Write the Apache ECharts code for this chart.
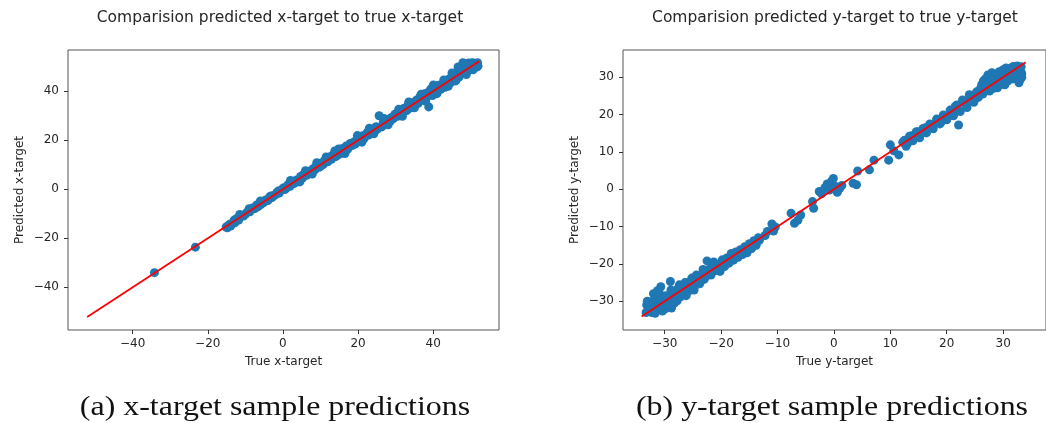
<!DOCTYPE html>
<html>
<head>
<meta charset="utf-8">
<script src="https://cdn.jsdelivr.net/npm/echarts@6/dist/echarts.min.js"></script>
<style>
html,body{margin:0;padding:0;background:#fff;}
#chart{width:1046px;height:423px;}
</style>
</head>
<body>
<div id="chart"></div>
<script>
// ---- data: [true, predicted] ----
const xTargetPoints = [
[-34.2,-34.0],[-23.3,-23.6],[-15.1,-15.4],[-14.5,-14.9],[-13.9,-15.0],[-14.2,-14.3],[-12.4,-12.0],[-11.8,-12.6],[-11.2,-11.0],[-10.5,-10.9],
[-10.0,-10.2],[-9.6,-9.4],[-8.8,-9.2],[-8.1,-7.6],[-7.5,-7.9],[-7.0,-6.4],[-6.6,-7.1],[-5.9,-6.2],[-5.2,-5.5],[-4.6,-4.4],
[-4.0,-4.6],[-3.5,-3.0],[-2.9,-3.4],[-2.2,-2.5],[-1.6,-1.3],[-1.0,-1.6],[-0.4,-0.2],[0.2,0.6],[0.8,0.3],[1.3,1.8],
[1.9,1.2],[2.5,2.9],[3.0,2.4],[3.6,3.8],[4.1,3.6],[4.7,5.2],[5.2,4.6],[5.8,6.1],[6.3,5.7],[6.9,7.3],
[7.4,6.8],[8.0,8.4],[8.5,7.9],[9.1,9.6],[9.6,9.0],[10.2,10.7],[10.7,10.1],[11.3,11.9],[11.8,11.2],[12.4,12.8],
[12.9,12.2],[13.5,14.1],[14.0,13.3],[14.6,15.2],[15.1,14.4],[15.7,16.5],[16.2,15.3],[16.8,17.6],[17.3,16.5],[17.9,18.6],
[18.4,17.8],[19.0,19.4],[19.5,18.9],[20.1,20.7],[20.6,20.0],[21.2,21.8],[21.7,21.0],[22.3,22.9],[22.8,22.1],[23.4,23.8],
[23.9,23.2],[24.5,25.0],[25.0,24.3],[25.6,30.0],[26.1,25.4],[26.7,27.4],[27.2,26.5],[27.8,28.2],[28.3,27.6],[28.9,29.3],
[29.4,28.8],[30.0,30.5],[30.5,29.8],[31.1,31.6],[31.6,31.0],[32.2,32.9],[32.7,32.0],[33.3,34.5],[33.8,33.1],[34.4,35.2],
[34.9,34.2],[35.5,36.3],[36.0,35.1],[36.6,38.1],[37.1,36.4],[37.7,39.0],[38.2,37.4],[38.8,33.6],[39.3,40.8],[39.8,38.2],
[40.4,41.3],[40.9,39.6],[41.5,42.4],[42.0,40.8],[42.6,43.2],[43.1,41.6],[43.7,42.5],[44.2,45.0],[44.8,43.7],[45.3,46.2],
[45.9,44.8],[46.4,47.5],[47.0,46.3],[47.5,49.3],[48.1,47.6],[48.6,50.2],[49.2,48.6],[49.7,50.8],[50.3,49.4],[50.8,51.2],
[51.3,50.5],[51.8,51.6],[51.5,49.8],[50.0,51.4],[48.5,51.3],
[-3.0,-2.6],[-1.2,-0.7],[0.5,-0.1],[2.2,2.8],[3.3,2.7],[5.5,6.0],[7.0,6.3],[8.8,9.3],[10.0,9.4],[11.0,11.6],
[12.0,11.3],[13.0,13.7],[14.3,13.6],[15.5,16.3],[17.0,16.1],[18.0,18.7],[19.2,18.4],[20.4,21.0],[21.5,20.6],[22.6,23.3],
[23.7,22.9],[24.8,25.5],[26.4,25.6],[27.5,28.3],[28.6,27.8],[29.8,30.6],[31.0,30.2],[32.0,32.8],[33.0,32.2],[34.0,34.9],
[35.2,34.4],[36.3,37.2],[37.4,36.5],[38.5,39.4],[39.6,38.6],[41.2,42.2],[42.3,41.3],[43.4,44.3],[44.5,43.4],[45.6,46.6],
[46.8,45.7],[47.8,49.8],[49.0,48.0],[50.5,51.6],[51.6,50.6],
[9.0,10.8],[11.5,13.2],[13.8,15.6],[14.8,16.4],[16.5,14.6],[19.8,21.9],[21.0,19.2],[23.0,24.9],[24.2,22.6],[26.9,28.9],
[28.0,26.3],[30.8,32.6],[31.8,29.8],[33.5,35.6],[35.0,33.2],[36.8,38.8],[38.0,36.0],[40.0,42.5],[41.0,39.0],[42.8,44.6],
[44.0,42.0],[45.0,47.4],[46.0,44.2],[47.2,48.9],[48.8,46.8],[49.5,51.5],[50.6,48.7],[51.9,50.2],[47.9,51.6],[46.6,49.9],
[2.0,3.6],[4.5,3.0],[6.0,7.6],[7.8,6.2],[-6.0,-4.8],[-9.0,-7.9],[-11.5,-10.3],[-13.0,-12.6],[-12.8,-13.7],[-14.8,-15.7]
];
const xTargetLine = [[-52.1,-52.1],[52.2,52.2]];

const yTargetPoints = [
[-33.2,-31.0],[-33.0,-32.5],[-32.6,-30.2],[-32.3,-33.0],[-32.0,-31.6],[-31.8,-29.5],[-31.5,-32.3],[-31.2,-30.8],[-30.9,-28.0],[-30.6,-31.5],
[-30.7,-26.1],[-30.2,-29.8],[-29.9,-32.0],[-29.6,-30.3],[-29.0,-24.7],[-29.2,-28.6],[-28.8,-31.8],[-28.5,-29.0],[-28.1,-27.6],[-27.8,-29.9],
[-27.4,-25.6],[-27.0,-27.8],[-26.6,-26.2],[-26.2,-28.5],[-25.8,-25.0],[-25.4,-26.9],[-25.0,-24.5],[-24.6,-25.8],[-24.2,-23.9],[-23.8,-25.3],
[-23.4,-22.8],[-23.0,-24.1],[-22.5,-19.2],[-22.2,-21.5],[-21.8,-23.0],[-21.3,-19.5],[-21.0,-21.8],[-20.6,-20.3],[-20.2,-22.0],[-19.8,-18.9],
[-19.4,-20.7],[-19.0,-18.4],[-18.6,-19.8],[-18.2,-17.2],[-17.8,-19.0],[-17.4,-16.8],[-17.0,-18.2],[-16.6,-16.2],[-16.2,-17.5],[-15.8,-15.4],
[-15.4,-17.0],[-15.0,-14.6],[-14.6,-15.9],[-14.2,-13.8],[-13.8,-15.0],[-13.4,-13.0],
[-12.2,-12.4],[-11.8,-11.3],[-11.0,-9.3],[-10.7,-11.2],[-10.4,-10.1],[-7.6,-6.4],[-7.0,-9.1],[-6.4,-8.3],[-5.9,-6.9],[-3.8,-3.3],
[-3.6,-5.1],[-2.6,-0.6],[-2.2,-1.2],[-1.6,0.4],[-1.2,1.4],[-0.8,-0.2],[-0.4,2.2],[-0.1,2.9],[0.2,0.8],[0.6,-0.8],
[1.0,0.2],[1.4,1.0],[3.4,1.6],[4.0,1.2],[4.2,4.9],[6.3,5.2],[7.1,7.8],[9.7,7.8],[10.0,11.9],[10.6,10.3],
[11.5,9.2],[12.2,12.6],[12.8,11.5],[13.4,14.2],[14.0,13.0],[14.6,15.4],[15.2,13.8],[15.8,16.3],[16.4,15.1],[17.0,17.5],
[17.6,16.2],[18.2,18.8],[18.8,17.5],[19.4,19.9],[20.0,18.6],[20.6,21.2],[21.2,19.7],[21.8,22.6],[22.1,17.2],[22.4,20.8],
[23.0,23.4],[23.6,21.9],[24.2,24.6],[24.8,23.3],[25.2,25.8],[25.6,24.6],[26.0,27.0],[26.4,25.5],[26.8,29.5],[27.0,27.5],
[27.3,30.6],[27.6,26.3],[28.0,31.2],[28.3,28.4],[28.6,30.2],[29.0,27.2],[29.3,31.5],[29.6,29.0],[30.0,32.0],[30.3,28.0],
[30.6,31.0],[31.0,30.2],[31.3,32.4],[31.6,29.5],[32.0,32.6],[32.3,30.8],[32.6,32.1],[33.0,29.3],[33.1,31.5],[32.8,28.5],
[-32.8,-31.8],[-31.0,-31.2],[-30.0,-30.8],[-28.0,-29.0],[-26.8,-27.2],[-25.0,-26.0],[-24.0,-24.8],[-22.8,-23.6],[-20.8,-21.2],[-19.6,-19.8],
[-18.4,-18.8],[-17.2,-17.8],[-16.0,-16.5],[-14.8,-15.2],[-13.6,-14.1],[12.5,13.1],[13.8,14.3],[15.0,15.4],[16.2,16.5],[17.3,17.0],
[18.5,18.2],[19.7,19.3],[20.9,20.5],[22.0,21.4],[23.3,22.8],[24.5,24.0],[25.7,25.2],[26.2,28.0],[27.8,28.8],[28.8,29.8],
[30.2,30.5],[31.3,31.0],[32.4,32.3],[33.2,32.8],
[-33.3,-33.0],[-33.1,-30.0],[-32.5,-31.5],[-32.0,-28.0],[-31.7,-33.2],[-31.3,-27.2],[-30.8,-29.5],[-30.4,-32.6],[-29.8,-28.5],[-29.4,-31.0],
[-28.9,-27.0],[-28.3,-30.5],[-27.6,-26.4],[-27.2,-28.8],[-26.4,-25.0],[-25.9,-27.5],[-25.2,-23.8],[-24.8,-27.0],[-24.4,-23.0],[-23.6,-24.6],
[-23.2,-21.5],[-22.0,-22.8],[-21.6,-20.2],[-20.4,-21.5],[-19.2,-19.0],[-18.0,-18.5],[-16.8,-17.0],[-15.6,-16.0],[-14.4,-14.8],[-13.2,-13.6],
[26.5,29.0],[27.2,28.2],[27.9,30.1],[28.5,29.2],[29.2,30.8],[29.8,31.2],[30.5,32.5],[31.1,31.8],[31.8,32.9],[32.5,33.0],
[33.3,31.0],[33.3,30.0],[32.2,29.6],[31.5,30.5],[30.8,29.0],[29.5,28.0],[28.2,27.0],[25.4,26.2],[24.0,25.3],[22.8,23.9],
[21.5,22.2],[20.3,19.5],[19.0,18.0],[17.9,17.6],[16.7,16.6],[15.5,15.0],[14.3,14.0],[13.1,12.4]
];
const yTargetLine = [[-34.1,-34.1],[34.0,34.0]];

const xTicksA = [-40, -20, 0, 20, 40];
const yTicksA = [-40, -20, 0, 20, 40];
const xTicksB = [-30, -20, -10, 0, 10, 20, 30];
const yTicksB = [-30, -20, -10, 0, 10, 20, 30];

const titles = ['Comparision predicted x-target to true x-target', 'Comparision predicted y-target to true y-target'];
const captions = ['(a) x-target sample predictions', '(b) y-target sample predictions'];
const axisNames = {xA: 'True x-target', yA: 'Predicted x-target', xB: 'True y-target', yB: 'Predicted y-target'};

// ---- styling ----
const FONT = '"DejaVu Sans", sans-serif';
const SERIF = '"Liberation Serif", serif';
const TXT = '#262626';
const minus = v => String(v).replace('-', '\u2212');

function axis(isX, idx, min, max, ticks, name, nameGap) {
  return {
    type: 'value', gridIndex: idx, min: min, max: max,
    name: name, nameLocation: 'middle', nameGap: nameGap,
    nameTextStyle: {fontFamily: FONT, fontSize: 12, color: TXT},
    axisLine: {show: false, onZero: false},
    axisTick: {show: true, length: 4, lineStyle: {color: '#333', width: 1}, customValues: ticks},
    axisLabel: {show: true, fontFamily: FONT, fontSize: 12, color: TXT, margin: isX ? 8 : 9, customValues: ticks, formatter: minus},
    splitLine: {show: false}
  };
}

const chart = echarts.init(document.getElementById('chart'), null, {renderer: 'canvas'});
chart.setOption({
  animation: false,
  backgroundColor: '#fff',
  grid: [
    {left: 68, top: 50, width: 431, height: 280, show: true, borderColor: '#555', borderWidth: 1, backgroundColor: 'transparent', containLabel: false},
    {left: 623, top: 50, width: 433, height: 280, show: true, borderColor: '#555', borderWidth: 1, backgroundColor: 'transparent', containLabel: false}
  ],
  xAxis: [
    axis(true, 0, -57.2, 57.5, xTicksA, axisNames.xA, 26),
    axis(true, 1, -37.4, 37.6, xTicksB, axisNames.xB, 26)
  ],
  yAxis: [
    axis(false, 0, -57.4, 56.8, yTicksA, axisNames.yA, 42),
    axis(false, 1, -37.7, 37.3, yTicksB, axisNames.yB, 42)
  ],
  series: [
    {type: 'scatter', xAxisIndex: 0, yAxisIndex: 0, data: xTargetPoints, symbolSize: 9,
     itemStyle: {color: '#1f77b4', opacity: 1}, z: 2},
    {type: 'line', xAxisIndex: 0, yAxisIndex: 0, data: xTargetLine, showSymbol: false,
     lineStyle: {color: '#ff0000', width: 1.8}, z: 3},
    {type: 'scatter', xAxisIndex: 1, yAxisIndex: 1, data: yTargetPoints, symbolSize: 9,
     itemStyle: {color: '#1f77b4', opacity: 1}, z: 2},
    {type: 'line', xAxisIndex: 1, yAxisIndex: 1, data: yTargetLine, showSymbol: false,
     lineStyle: {color: '#ff0000', width: 1.8}, z: 3}
  ],
  graphic: [
    {type: 'text', x: 280, y: 18, style: {text: titles[0], fontFamily: FONT, fontSize: 15.5, fill: TXT, textAlign: 'center', textVerticalAlign: 'middle'}},
    {type: 'text', x: 835, y: 18, style: {text: titles[1], fontFamily: FONT, fontSize: 15.5, fill: TXT, textAlign: 'center', textVerticalAlign: 'middle'}},
    {type: 'text', x: 275, y: 408, scaleX: 1.14, style: {text: captions[0], fontFamily: SERIF, fontSize: 28, fill: '#111', textAlign: 'center', textVerticalAlign: 'middle'}},
    {type: 'text', x: 832, y: 408, scaleX: 1.14, style: {text: captions[1], fontFamily: SERIF, fontSize: 28, fill: '#111', textAlign: 'center', textVerticalAlign: 'middle'}}
  ]
});
</script>
</body>
</html>
